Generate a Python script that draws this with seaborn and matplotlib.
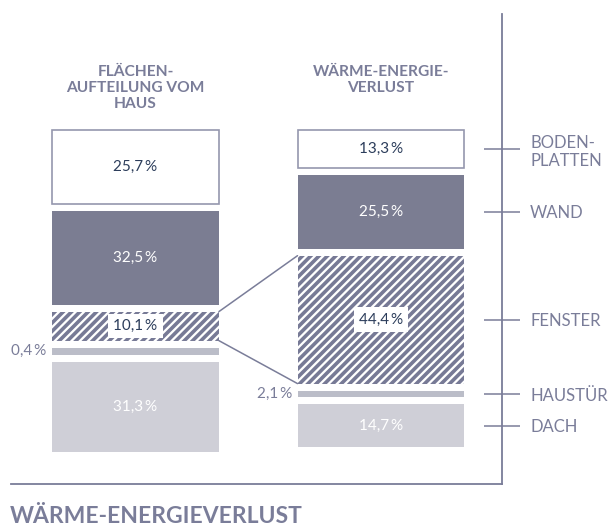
import numpy as np
import pandas as pd
import seaborn as sns
import matplotlib.pyplot as plt

bars = ['Fläche', 'Verlust']
bar_titles = ['FLÄCHEN-\nAUFTEILUNG VOM\nHAUS', 'WÄRME-ENERGIE-\nVERLUST']
parts = ['BODEN-\nPLATTEN', 'WAND', 'FENSTER', 'HAUSTÜR', 'DACH']
flaeche = [25.7, 32.5, 10.1, 0.4, 31.3]
verlust = [13.3, 25.5, 44.4, 2.1, 14.7]

# styles
ink = '#7a7d99'
navy = '#2c3d5b'
fills = ['white', '#777a96', 'white', '#b9bbca', '#cdcdd9']
label_col = [navy, 'white', navy, ink, 'white']

MIN_H = 2.4   # smallest drawn segment so tiny shares stay visible
GAP = 2.43    # gap between segments, in percent units

sns.set_theme(style='white')
plt.rcParams['font.family'] = ['Lato', 'DejaVu Sans']
plt.rcParams['hatch.linewidth'] = 2.6

rows = []
for b, vals in zip(bars, [flaeche, verlust]):
    top = 0.0
    for p, v in zip(parts, vals):
        h = max(v, MIN_H)
        rows.append({'bar': b, 'part': p, 'value': v, 'height': h, 'bottom': top})
        top += h + GAP
df = pd.DataFrame(rows)

fig = plt.figure(figsize=(6.09, 5.26), dpi=100)
ax = fig.add_axes([0, 0, 1, 1])

for i, p in enumerate(parts):
    sub = df[df['part'] == p].set_index('bar').loc[bars].reset_index()
    kw = dict(color=fills[i], linewidth=0)
    if p == 'FENSTER':
        kw = dict(color='white', edgecolor='#777a96', hatch='////', linewidth=0)
    elif i == 0:
        kw = dict(color='white', edgecolor='#9597ae', linewidth=1.2)
    sns.barplot(data=sub, x='bar', y='height', order=bars, width=0.68,
                bottom=sub['bottom'].values, errorbar=None, ax=ax, **kw)

half = 0.34
for j, b in enumerate(bars):
    d = df[df['bar'] == b]
    for i, (_, r) in enumerate(d.iterrows()):
        txt = f"{r['value']:.1f}".replace('.', ',') + '\u2009%'
        yc = r['bottom'] + r['height'] / 2
        if r['part'] == 'HAUSTÜR':
            ax.annotate(txt, xy=(j - half, yc), xytext=(-4, 0), textcoords='offset points',
                        ha='right', va='center', color=ink, fontsize=11)
        elif r['part'] == 'FENSTER':
            ax.text(j, yc, txt, ha='center', va='center', color=navy, fontsize=11,
                    bbox=dict(boxstyle='square,pad=0.35', fc='white', ec='none'))
        else:
            ax.text(j, yc, txt, ha='center', va='center', color=label_col[i], fontsize=11)
    ax.text(j, -22.6, bar_titles[j], ha='center', va='top', color=ink,
            fontsize=11.2, fontweight='bold', linespacing=1.2)

# connector lines between the two window segments
fl = df[(df['bar'] == bars[0]) & (df['part'] == 'FENSTER')].iloc[0]
fr = df[(df['bar'] == bars[1]) & (df['part'] == 'FENSTER')].iloc[0]
for a, c in [(fl['bottom'], fr['bottom']), (fl['bottom'] + fl['height'], fr['bottom'] + fr['height'])]:
    ax.plot([half, 1 - half], [a, c], color=ink, lw=1.1)

# axis frame: right spine with category ticks, bottom spine
ax.set_xlim(-0.552, 1.929)
ax.set_ylim(137.5, -45.1)
right = df[df['bar'] == bars[1]]
ax.yaxis.tick_right()
ax.set_yticks(right['bottom'] + right['height'] / 2)
ax.set_yticklabels(parts)
ax.tick_params(axis='y', direction='inout', length=26.6, width=1.1, color=ink,
               labelcolor=ink, labelsize=12, pad=6.9)
ax.set_xticks([])
ax.set_xlabel('')
ax.set_ylabel('')
for s in ['left', 'top']:
    ax.spines[s].set_visible(False)
ax.spines['right'].set_position(('data', 1.493))
ax.spines['right'].set_bounds(-40.3, 122.9)
ax.spines['bottom'].set_position(('data', 122.9))
ax.spines['bottom'].set_bounds(-0.507, 1.493)
for s in ['right', 'bottom']:
    ax.spines[s].set_color(ink)
    ax.spines[s].set_linewidth(1.3)
ax.grid(False)

fig.text(10 / 609, 3 / 526, 'WÄRME-ENERGIEVERLUST', ha='left', va='baseline',
         color=ink, fontsize=16.5, fontweight='bold')

fig.savefig('out.png', dpi=100)
